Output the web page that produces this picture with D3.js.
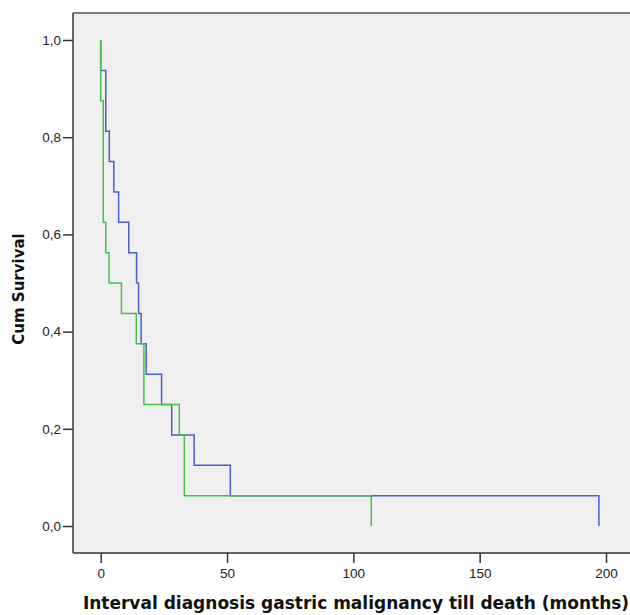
<!DOCTYPE html>
<html>
<head>
<meta charset="utf-8">
<script src="https://cdn.jsdelivr.net/npm/d3@7"></script>
<style>
  html, body { margin: 0; padding: 0; background: #fff; }
  svg { display: block; }
</style>
</head>
<body>
<div id="chart"></div>
<script>
// Kaplan-Meier steps: time (months) where survival drops, and value after the drop
const blueTimes = [0, 2, 3.4, 5.2, 7.1, 11.1, 14.2, 15, 16, 18, 24.1, 28.1, 37, 51.3, 197.2];
const blueSurv = [0.9375, 0.8125, 0.75, 0.6875, 0.625, 0.5625, 0.5, 0.4375, 0.375, 0.3125, 0.25, 0.1875, 0.125, 0.0625, 0];
const greenTimes = [0, 1, 2, 3.3, 8.2, 14.1, 17.1, 31.1, 33.1, 107.1];
const greenSurv = [0.875, 0.625, 0.5625, 0.5, 0.4375, 0.375, 0.25, 0.1875, 0.0625, 0];
const xTicks = [0, 50, 100, 150, 200];
const yTicks = [0, 0.2, 0.4, 0.6, 0.8, 1.0];

const width = 630, height = 615;
const frame = { left: 73, top: 13, right: 630, bottom: 553 };

const x = d3.scaleLinear().domain([0, 200]).range([100.7, 606]);
const y = d3.scaleLinear().domain([0, 1]).range([526, 40]);

const svg = d3.select('#chart').append('svg')
  .attr('width', width)
  .attr('height', height);

svg.append('rect')
  .attr('x', frame.left)
  .attr('y', frame.top)
  .attr('width', frame.right - frame.left)
  .attr('height', frame.bottom - frame.top)
  .attr('fill', '#efefef');

// top border
svg.append('line')
  .attr('x1', frame.left).attr('x2', frame.right)
  .attr('y1', frame.top).attr('y2', frame.top)
  .attr('stroke', '#555').attr('stroke-width', 1.5);

// axes
const xAxis = svg.append('g')
  .attr('transform', `translate(0,${frame.bottom})`)
  .call(d3.axisBottom(x).tickValues(xTicks).tickSize(10).tickPadding(5).tickFormat(d3.format('d')));
xAxis.select('.domain').attr('d', `M${frame.left},0H${frame.right}`);

const yAxis = svg.append('g')
  .attr('transform', `translate(${frame.left},0)`)
  .call(d3.axisLeft(y).tickValues(yTicks).tickSize(10).tickPadding(2)
    .tickFormat(d => d3.format('.1f')(d).replace('.', ',')));
yAxis.select('.domain').attr('d', `M0,${frame.top}V${frame.bottom}`);

svg.selectAll('.domain, .tick line')
  .attr('stroke', '#333').attr('stroke-width', 1.5);
svg.selectAll('.tick text')
  .attr('font-family', 'Liberation Sans, Arial, sans-serif')
  .attr('font-size', 13.5)
  .attr('fill', '#222');

// survival curves
function stepPoints(times, surv, start) {
  const pts = [[start, 1]];
  let prev = 1;
  times.forEach((t, i) => {
    pts.push([t, prev]);
    pts.push([t, surv[i]]);
    prev = surv[i];
  });
  return pts;
}

const line = d3.line().x(d => x(d[0])).y(d => y(d[1]));

const curves = [
  { pts: stepPoints(blueTimes, blueSurv, 0), color: '#4a60c4' },
  { pts: stepPoints(greenTimes, greenSurv, 0), color: '#46c046' }
];

svg.append('g').selectAll('path')
  .data(curves)
  .join('path')
  .attr('d', d => line(d.pts))
  .attr('fill', 'none')
  .attr('stroke', d => d.color)
  .attr('stroke-width', 1.5);

// titles
svg.append('text')
  .attr('x', 356)
  .attr('y', 609)
  .attr('text-anchor', 'middle')
  .attr('font-family', 'DejaVu Sans, Verdana, sans-serif')
  .attr('font-weight', 700)
  .attr('font-size', 17)
  .attr('fill', '#111')
  .text('Interval diagnosis gastric malignancy till death (months)');

svg.append('text')
  .attr('transform', 'translate(24,289) rotate(-90)')
  .attr('text-anchor', 'middle')
  .attr('font-family', 'DejaVu Sans, Verdana, sans-serif')
  .attr('font-weight', 700)
  .attr('font-size', 15)
  .attr('fill', '#111')
  .text('Cum Survival');
</script>
</body>
</html>
